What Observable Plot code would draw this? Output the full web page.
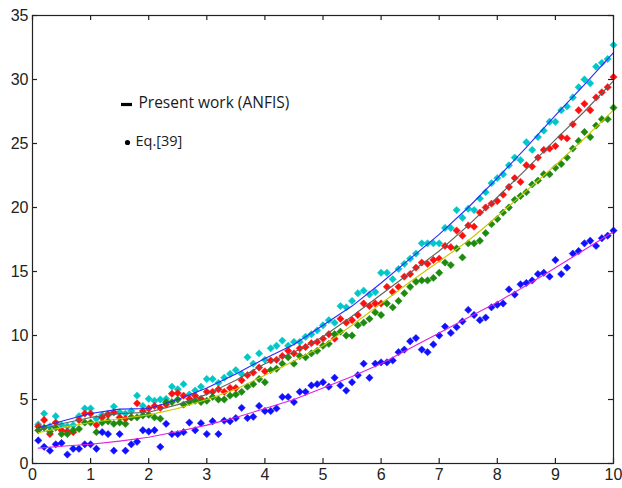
<!DOCTYPE html>
<html><head><meta charset="utf-8">
<script src="https://cdn.jsdelivr.net/npm/d3@7"></script>
<script src="https://cdn.jsdelivr.net/npm/@observablehq/plot@0.6"></script>
<style>body{margin:0;background:#fff}</style>
</head><body><div id="chart"></div>
<script>
// tick values
const xTicks = [0,1,2,3,4,5,6,7,8,9,10];
const yTicks = [0,5,10,15,20,25,30,35];
// x positions of the scattered points
const xs = d3.range(1, 101).map(i => i / 10);
// scattered point series (Eq.[39])
const cyanPts = [3.05,3.9,2.9,3.7,3.0,2.9,3.0,3.7,4.3,4.3, 3.5,3.8,3.9,4.45,4.0,3.9,4.1,5.3,4.5,5.05,
  4.9,5.0,5.05,6.0,5.8,6.2,5.4,5.7,6.0,6.6, 6.6,6.3,6.7,7.0,7.3,7.0,8.3,7.8,8.6,8.1,
  9.0,9.2,9.6,9.2,9.5,9.5,9.9,10.1,10.4,10.8, 11.2,11.0,12.3,12.2,12.7,13.3,13.5,13.2,13.4,14.9,
  14.9,14.4,15.2,15.6,16.0,16.4,17.2,17.2,17.2,17.2, 18.4,18.4,19.8,19.2,19.9,19.8,20.7,21.2,21.9,22.3,
  22.6,23.3,23.9,23.7,25.1,24.5,25.5,26.0,26.7,26.7, 27.6,27.9,28.6,29.4,30.0,29.7,31.0,31.3,31.6,32.7];
const redPts = [2.9,3.4,2.3,3.2,2.6,2.5,2.45,3.4,3.9,3.9, 3.0,3.6,3.8,4.0,3.6,3.5,3.6,4.7,4.1,4.3,
  4.5,4.35,4.6,5.45,5.5,5.3,5.05,5.3,5.05,5.6, 5.6,5.8,5.6,5.9,5.9,6.5,6.9,7.1,7.5,7.2,
  8.05,8.1,8.4,8.8,8.6,9.0,9.1,9.4,9.5,9.75, 10.1,9.75,11.3,11.0,11.2,11.6,12.5,12.3,12.5,12.5,
  13.8,13.4,13.8,14.6,14.8,15.3,15.7,15.6,15.9,16.0, 17.0,16.9,18.2,17.8,18.6,18.5,19.6,20.0,20.3,20.5,
  21.0,21.6,22.3,22.0,23.3,23.2,23.9,24.5,24.6,24.8, 25.5,25.4,26.5,27.6,28.1,27.6,28.6,29.0,29.4,30.2];
const greenPts = [2.6,2.8,2.5,2.8,2.3,2.3,2.6,2.7,3.2,3.2, 2.45,3.2,3.3,3.1,3.2,3.1,3.6,3.6,3.75,3.8,
  3.6,3.5,4.8,4.8,5.0,4.6,4.8,4.9,4.8,4.9, 5.2,5.0,5.0,5.3,5.4,5.6,6.0,6.2,6.6,6.35,
  7.3,7.4,7.8,8.3,7.8,8.4,8.3,8.6,8.8,9.2, 9.35,10.1,10.3,10.0,10.0,10.8,11.0,11.3,11.8,11.6,
  12.5,12.2,12.7,13.3,13.8,14.2,14.3,14.3,14.5,14.9, 15.7,15.5,16.8,16.1,17.2,17.2,17.4,18.0,18.7,19.1,
  19.6,20.0,20.6,20.9,21.2,21.8,22.1,22.6,22.6,23.1, 23.4,23.9,24.6,25.2,25.9,25.5,26.4,26.9,26.9,27.8];
const bluePts = [1.8,1.3,1.0,1.5,1.6,0.7,1.15,1.15,1.5,1.5, 1.15,2.45,2.3,1.0,2.3,1.0,1.5,1.7,2.6,2.5,
  2.6,1.3,3.1,2.3,2.3,2.45,3.2,2.6,3.15,2.3, 3.3,2.3,3.35,3.3,3.55,4.35,3.55,3.65,4.5,4.1,
  4.1,4.3,5.2,5.2,4.8,5.6,5.6,6.1,6.2,6.35, 6.0,6.7,6.1,5.7,6.35,6.9,7.8,6.7,7.8,7.9,
  7.9,8.05,8.7,8.9,9.55,9.8,8.9,8.7,9.3,10.0, 10.7,10.2,10.65,11.1,12.0,11.6,11.2,11.4,12.2,12.4,
  12.5,13.6,13.2,14.0,14.1,14.3,14.8,14.9,14.6,15.9, 14.8,15.3,16.4,16.6,17.2,17.4,17.0,17.6,17.8,18.2];
// ANFIS model lines
const lineX = [0.1,0.5,1,1.5,2,2.5,3,3.5,4,4.5,5,5.5,6,6.5,7,7.5,8,8.5,9,9.5,10];
const blueLine = [2.8,3.3,3.9,4.25,4.3,5.0,5.9,7.0,8.2,9.3,10.8,12.3,14.1,16.0,17.9,20.0,22.3,24.7,27.2,29.6,32.1];
const grayLine = [2.6,3.1,3.6,3.9,4.0,4.6,5.4,6.5,7.8,8.7,9.9,11.5,13.2,14.9,16.6,18.6,20.8,23.0,25.3,27.5,29.9];
const yellowLine = [2.4,2.8,3.2,3.5,3.8,4.3,5.0,5.8,6.9,8.0,9.2,10.8,12.5,14.2,15.8,17.4,19.3,21.3,23.3,25.4,27.6];
const magentaLine = [1.2,1.35,1.5,1.75,2.05,2.5,3.0,3.6,4.3,5.0,5.9,6.8,7.8,9.0,10.2,11.4,12.6,13.9,15.3,16.7,18.1];
const legendLabels = ["Present work (ANFIS)", "Eq.[39]"];

const pts = (vals, color) => Plot.dot(xs.map((x, i) => ({x, y: vals[i]})),
  {x: "x", y: "y", symbol: "diamond2", r: 3.3, fill: color, stroke: color, strokeWidth: 0.5});
const ln = (vals, color) => Plot.line(lineX.map((x, i) => ({x, y: vals[i]})),
  {x: "x", y: "y", stroke: color, strokeWidth: 1.1});

const W = 622, H = 488, ML = 32, MR = 9, MT = 15, MB = 25;
const fw = W - ML - MR, fh = H - MT - MB;
const dash = {draw(ctx) { ctx.rect(-5.5, -1.6, 11, 3.2); }};

const chart = Plot.plot({
  width: W, height: H, marginLeft: ML, marginRight: MR, marginTop: MT, marginBottom: MB,
  x: {domain: [0, 10], label: null}, y: {domain: [0, 35], label: null},
  style: {fontFamily: "'Liberation Sans', Arial, sans-serif", fontSize: "16px", color: "#111", background: "#fff"},
  marks: [
    pts(cyanPts, "#00c8c8"),
    pts(redPts, "#ff1010"),
    pts(greenPts, "#1e8a10"),
    pts(bluePts, "#1010ff"),
    ln(blueLine, "#2a2aff"),
    ln(grayLine, "#606060"),
    ln(yellowLine, "#c8c800"),
    ln(magentaLine, "#e020e0"),
    Plot.frame({stroke: "#222", strokeWidth: 1.2}),
    Plot.tickX(xTicks, {x: d => d, insetTop: fh - 5, stroke: "#222", strokeWidth: 1.2}),
    Plot.tickX(xTicks, {x: d => d, insetBottom: fh - 5, stroke: "#222", strokeWidth: 1.2}),
    Plot.tickY(yTicks, {y: d => d, insetRight: fw - 5, stroke: "#222", strokeWidth: 1.2}),
    Plot.tickY(yTicks, {y: d => d, insetLeft: fw - 5, stroke: "#222", strokeWidth: 1.2}),
    Plot.axisX(xTicks, {tickSize: 0, tickPadding: 5, fontSize: 16, fill: "#222", label: null}),
    Plot.axisY(yTicks, {tickSize: 0, tickPadding: 4, fontSize: 16, fill: "#222", label: null}),
    Plot.dot([0], {frameAnchor: "top-left", dx: 94, dy: 89, symbol: dash, r: 3, fill: "#000"}),
    Plot.dot([0], {frameAnchor: "top-left", dx: 95, dy: 127, r: 2.6, fill: "#000"}),
    Plot.text([legendLabels[0]], {frameAnchor: "top-left", dx: 106, dy: 88, lineAnchor: "middle", textAnchor: "start", fontSize: 15.5, fontFamily: "'Open Sans', sans-serif", fill: "#1a1a1a"}),
    Plot.text([legendLabels[1]], {frameAnchor: "top-left", dx: 103, dy: 126, lineAnchor: "middle", textAnchor: "start", fontSize: 14.5, fontFamily: "'Open Sans', sans-serif", fill: "#1a1a1a"})
  ]
});
document.getElementById("chart").append(chart);
</script>
</body></html>
